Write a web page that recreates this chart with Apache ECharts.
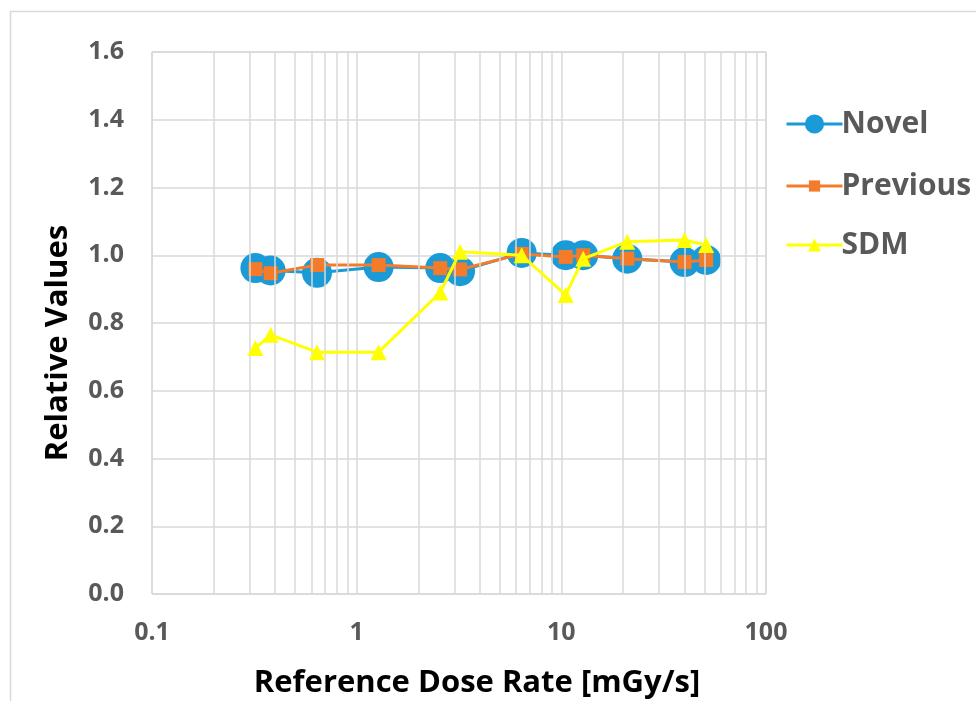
<!DOCTYPE html>
<html>
<head>
<meta charset="utf-8">
<script src="https://cdn.jsdelivr.net/npm/echarts@6/dist/echarts.min.js"></script>
<style>
  html, body { margin: 0; padding: 0; background: #fff; }
  #chart { width: 976px; height: 701px; }
</style>
</head>
<body>
<div id="chart"></div>
<script>
// 数据：剂量率 (mGy/s) 与相对值
const doseRates = [0.32, 0.38, 0.64, 1.28, 2.56, 3.2, 6.4, 10.5, 12.8, 21, 40, 51];
const novelValues = [0.962, 0.955, 0.948, 0.965, 0.962, 0.953, 1.007, 1.0, 1.0, 0.99, 0.98, 0.986];
const previousValues = [0.959, 0.947, 0.971, 0.971, 0.962, 0.958, 1.004, 0.995, 1.0, 0.99, 0.98, 0.986];
const sdmValues = [0.726, 0.765, 0.714, 0.714, 0.89, 1.01, 1.0, 0.883, 0.99, 1.04, 1.045, 1.03];
// 对数轴次网格线 (2..9 每个十倍程)
const minorTicks = [0.2, 0.3, 0.4, 0.5, 0.6, 0.7, 0.8, 0.9, 2, 3, 4, 5, 6, 7, 8, 9, 20, 30, 40, 50, 60, 70, 80, 90];

const FONT = '"Open Sans", sans-serif';
const GRID_COLOR = '#d9d9d9';
const BLUE = '#1a9ad6', ORANGE = '#f47b2a', YELLOW = '#ffff00';

function pairs(values) {
    return doseRates.map((x, i) => [x, values[i]]);
}

// 每个图例单独一个组件，以便控制标记大小
function legendItem(name, centerY, size) {
    return {
        orient: 'vertical',
        left: 785,
        top: centerY - 17,
        itemWidth: 56, itemHeight: size,
        height: 34,
        padding: 0,
        lineStyle: { width: 3 },
        textStyle: { fontFamily: FONT, fontWeight: 'bold', fontSize: 30, color: '#595959', padding: [0, 0, 0, -6], lineHeight: 34 },
        data: [name]
    };
}

const chart = echarts.init(document.getElementById('chart'));

chart.setOption({
    animation: false,
    backgroundColor: '#fff',
    graphic: [{
        type: 'rect',
        shape: { x: 10.5, y: 11.5, width: 1000, height: 720 },
        style: { fill: 'none', stroke: '#d9d9d9', lineWidth: 1.5 },
        silent: true,
        z: -1
    }],
    grid: {
        left: 152, top: 52, right: 210, bottom: 107,
        outerBoundsMode: 'none',
        containLabel: false,
        show: true, borderColor: '#c8c8c8', borderWidth: 1
    },
    legend: [
        legendItem('Novel', 124, 24),
        legendItem('Previous', 186, 14),
        legendItem('SDM', 245, 16)
    ],
    xAxis: {
        type: 'log',
        logBase: 10,
        min: 0.1, max: 100,
        name: 'Reference Dose Rate [mGy/s]',
        nameLocation: 'middle',
        nameGap: 74,
        nameTextStyle: { fontFamily: FONT, fontWeight: 'bold', fontSize: 31, color: '#000', padding: [0, 0, 0, 36] },
        axisLine: { show: false },
        axisTick: { show: false },
        axisLabel: {
            fontFamily: FONT, fontWeight: 'bold', fontSize: 25, color: '#595959', margin: 26,
            formatter: v => String(+v.toPrecision(3))
        },
        splitLine: { show: true, lineStyle: { color: GRID_COLOR, width: 1.5 } }
    },
    yAxis: {
        type: 'value',
        min: 0, max: 1.6, interval: 0.2,
        name: 'Relative Values',
        nameLocation: 'middle',
        nameGap: 78,
        nameTextStyle: { fontFamily: FONT, fontWeight: 'bold', fontSize: 31, color: '#000', padding: [0, 40, 0, 0] },
        axisLine: { show: false },
        axisTick: { show: false },
        axisLabel: {
            fontFamily: FONT, fontWeight: 'bold', fontSize: 25, color: '#595959', margin: 28,
            formatter: v => v.toFixed(1)
        },
        splitLine: { show: true, lineStyle: { color: GRID_COLOR, width: 1.5 } }
    },
    series: [
        {
            // 次网格线
            type: 'line',
            data: [],
            silent: true,
            markLine: {
                silent: true,
                symbol: 'none',
                label: { show: false },
                lineStyle: { color: GRID_COLOR, width: 1.5, type: 'solid' },
                data: minorTicks.map(v => ({ xAxis: v }))
            }
        },
        {
            name: 'Novel',
            type: 'line',
            data: pairs(novelValues),
            symbol: 'circle',
            symbolSize: 30,
            lineStyle: { color: BLUE, width: 3 },
            itemStyle: { color: BLUE },
            z: 3
        },
        {
            name: 'Previous',
            type: 'line',
            data: pairs(previousValues),
            symbol: 'rect',
            symbolSize: 14,
            lineStyle: { color: ORANGE, width: 3 },
            itemStyle: { color: ORANGE },
            z: 4
        },
        {
            name: 'SDM',
            type: 'line',
            data: pairs(sdmValues),
            symbol: 'triangle',
            symbolSize: 16,
            lineStyle: { color: YELLOW, width: 3 },
            itemStyle: { color: YELLOW },
            z: 5
        }
    ]
});
</script>
</body>
</html>
